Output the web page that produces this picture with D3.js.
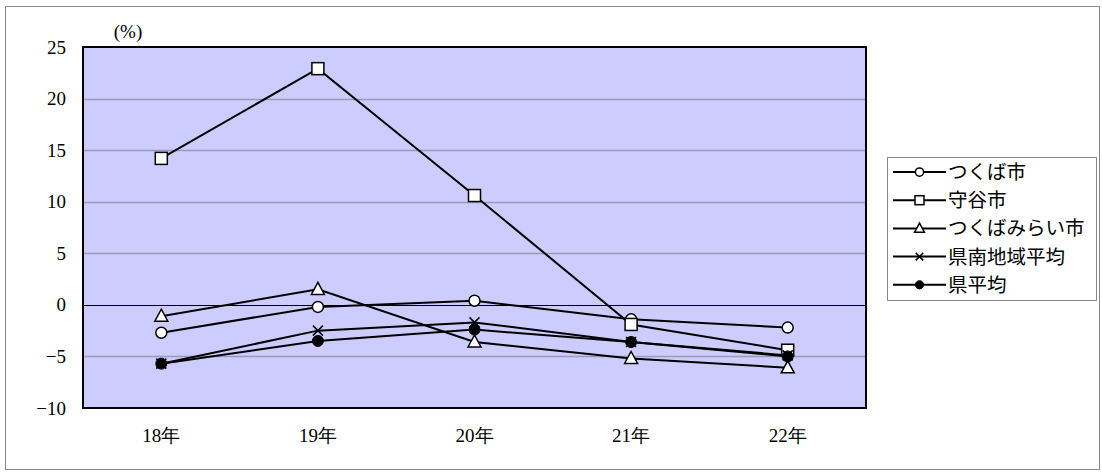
<!DOCTYPE html>
<html>
<head>
<meta charset="UTF-8">
<script src="https://cdn.jsdelivr.net/npm/d3@7"></script>
<style>
  body { margin: 0; background: #fff; }
</style>
</head>
<body>
<div id="chart"></div>
<script>
// categories and series
var years = ["18年", "19年", "20年", "21年", "22年"];
var yTicks = [25, 20, 15, 10, 5, 0, -5, -10];
var tsukuba = [-2.7, -0.2, 0.4, -1.4, -2.2];
var moriya = [14.2, 22.9, 10.6, -1.9, -4.4];
var mirai = [-1.1, 1.5, -3.6, -5.2, -6.1];
var kennan = [-5.7, -2.5, -1.7, -3.6, -4.9];
var kenAvg = [-5.7, -3.5, -2.4, -3.6, -5.0];

var series = [
  { name: "つくば市", values: tsukuba, mark: "circle" },
  { name: "守谷市", values: moriya, mark: "square" },
  { name: "つくばみらい市", values: mirai, mark: "triangle" },
  { name: "県南地域平均", values: kennan, mark: "cross" },
  { name: "県平均", values: kenAvg, mark: "dot" }
];

var width = 1102, height = 475;
var margin = { top: 47, right: 236, bottom: 67, left: 83 };
var w = width - margin.left - margin.right,
    h = height - margin.top - margin.bottom;

var svg = d3.select("#chart").append("svg")
  .attr("width", width)
  .attr("height", height);

// outer frame
svg.append("rect")
  .attr("x", 5.5).attr("y", 6.5)
  .attr("width", 1094).attr("height", 463)
  .attr("fill", "#fff").attr("stroke", "#888").attr("stroke-width", 1);

var g = svg.append("g").attr("transform", "translate(" + margin.left + "," + margin.top + ")");

var x = d3.scaleBand().domain(years).range([0, w]);
var y = d3.scaleLinear().domain([-10, 25]).range([h, 0]);

g.append("rect").attr("width", w).attr("height", h).attr("fill", "#ccccff");

// gridlines
g.selectAll(".grid").data(yTicks.filter(function (d) { return d !== 25 && d !== -10; }))
  .enter().append("line")
  .attr("x1", 0).attr("x2", w)
  .attr("y1", function (d) { return Math.round(y(d)) + 0.5; })
  .attr("y2", function (d) { return Math.round(y(d)) + 0.5; })
  .attr("stroke", function (d) { return d === 0 ? "#000" : "#9a9ab8"; })
  .attr("stroke-width", function (d) { return d === 0 ? 1 : 1.5; });

g.append("rect").attr("width", w).attr("height", h)
  .attr("fill", "none").attr("stroke", "#000").attr("stroke-width", 2);

// axes
var yAxis = d3.axisLeft(y).tickValues(yTicks).tickSize(0).tickPadding(17)
  .tickFormat(function (d) { return d < 0 ? "\u2212" + Math.abs(d) : d; });
var yg = g.append("g").call(yAxis);
yg.select(".domain").remove();
yg.selectAll("text").style("font-family", "Liberation Serif").style("font-size", "19px");

var xAxis = d3.axisBottom(x).tickSize(0).tickPadding(21);
var xg = g.append("g").attr("transform", "translate(0," + h + ")").call(xAxis);
xg.select(".domain").remove();
xg.selectAll("text").style("font-family", "Liberation Serif").style("font-size", "19px");

svg.append("text").attr("x", 128).attr("y", 38)
  .attr("text-anchor", "middle")
  .style("font-family", "Liberation Serif")
  .style("font-size", "19px")
  .text("(%)");

function cx(i) { return x(years[i]) + x.bandwidth() / 2; }

function drawMark(sel, mark, k) {
  if (mark === "circle") {
    sel.append("circle").attr("r", 5.5 * k).attr("fill", "#fff").attr("stroke", "#000").attr("stroke-width", 1.5);
  } else if (mark === "square") {
    sel.append("rect").attr("x", -6 * k).attr("y", -6 * k).attr("width", 12 * k).attr("height", 12 * k)
      .attr("fill", "#fff").attr("stroke", "#000").attr("stroke-width", 1.5);
  } else if (mark === "triangle") {
    sel.append("path").attr("d", "M0," + (-7 * k) + "L" + (6.5 * k) + "," + (5 * k) + "L" + (-6.5 * k) + "," + (5 * k) + "Z")
      .attr("fill", "#fff").attr("stroke", "#000").attr("stroke-width", 1.5);
  } else if (mark === "cross") {
    var a = 5 * k;
    sel.append("path").attr("d", "M" + -a + "," + -a + "L" + a + "," + a + "M" + -a + "," + a + "L" + a + "," + -a)
      .attr("fill", "none").attr("stroke", "#000").attr("stroke-width", 1.5);
  } else {
    sel.append("circle").attr("r", 5.5 * k).attr("fill", "#000").attr("stroke", "#000");
  }
}

var line = d3.line().x(function (d, i) { return cx(i); }).y(function (d) { return y(d); });

series.forEach(function (s) {
  g.append("path").attr("d", line(s.values))
    .attr("fill", "none").attr("stroke", "#000").attr("stroke-width", 2);
});
series.forEach(function (s) {
  s.values.forEach(function (v, i) {
    var m = g.append("g").attr("transform", "translate(" + cx(i) + "," + y(v) + ")");
    drawMark(m, s.mark, 1);
  });
});

// legend
var lg = svg.append("g");
lg.append("rect").attr("x", 887.5).attr("y", 157.5).attr("width", 209).attr("height", 143)
  .attr("fill", "#fff").attr("stroke", "#888");
series.forEach(function (s, i) {
  var yy = 172 + i * 28.2;
  lg.append("line").attr("x1", 893).attr("x2", 946).attr("y1", yy).attr("y2", yy)
    .attr("stroke", "#000").attr("stroke-width", 2);
  var m = lg.append("g").attr("transform", "translate(919.5," + yy + ")");
  drawMark(m, s.mark, 0.75);
  lg.append("text").attr("x", 948).attr("y", yy).attr("dy", "0.36em")
    .style("font-family", "Noto Sans CJK JP").style("font-size", "19.5px")
    .text(s.name);
});
</script>
</body>
</html>
